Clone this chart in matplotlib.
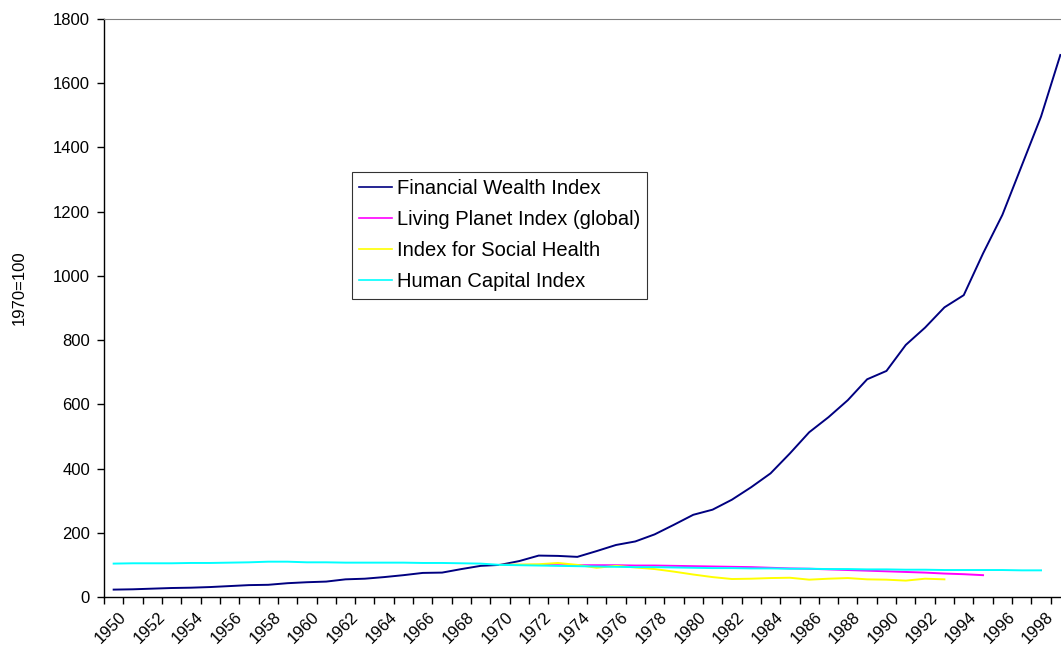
import matplotlib
matplotlib.use('Agg')
import matplotlib.pyplot as plt
import matplotlib.transforms as mtransforms

plt.rcParams['font.family'] = ['Liberation Sans', 'DejaVu Sans']

# index values, 1970 = 100
years = list(range(1950, 2000))

financial_wealth = [23, 24, 26, 28, 29, 31, 34, 37, 38, 43,
                    46, 48, 55, 57, 62, 68, 75, 76, 87, 97,
                    100, 112, 129, 128, 125, 143, 162, 173, 195, 225,
                    256, 272, 303, 342, 385, 447, 513, 560, 613, 678,
                    704, 785, 839, 902, 940, 1070, 1190, 1343, 1496, 1688]

living_planet_years = list(range(1970, 1996))
living_planet = [100, 100, 100, 99, 99, 99, 99, 98, 98, 97,
                 96, 95, 94, 93, 91, 89, 88, 86, 84, 82,
                 80, 78, 76, 73, 71, 68]

social_health_years = list(range(1970, 1994))
social_health = [100, 101, 102, 106, 100, 91, 97, 92, 87, 79,
                 70, 62, 56, 57, 59, 60, 54, 57, 59, 55,
                 54, 51, 57, 55]

human_capital_years = list(range(1950, 1999))
human_capital = [104, 105, 105, 105, 106, 106, 107, 108, 110, 110,
                 108, 108, 107, 107, 107, 107, 106, 106, 105, 104,
                 100, 99, 98, 97, 96, 95, 94, 93, 93, 92,
                 91, 90, 90, 89, 89, 88, 88, 87, 87, 86,
                 86, 85, 85, 84, 84, 84, 84, 83, 83]

W, H = 1061, 660
fig = plt.figure(figsize=(W / 100, H / 100), dpi=100)
ax = fig.add_axes([104 / W, 63 / H, 966 / W, 578 / H])

def idx(ys):
    return [y - 1950 for y in ys]

ax.plot(idx(years), financial_wealth, color='#000080', lw=1.4, label='Financial Wealth Index')
ax.plot(idx(living_planet_years), living_planet, color='#FF00FF', lw=1.4, label='Living Planet Index (global)')
ax.plot(idx(social_health_years), social_health, color='#FFFF00', lw=1.4, label='Index for Social Health')
ax.plot(idx(human_capital_years), human_capital, color='#00FFFF', lw=1.4, label='Human Capital Index')

ax.set_xlim(-0.5, 49.5)
ax.set_ylim(0, 1800)
ax.set_yticks(range(0, 1801, 200))

# tick marks between categories, labels on every second year
ax.set_xticks([i - 0.5 for i in range(51)])
ax.set_xticklabels([])
ax.set_xticks(range(0, 50, 2), labels=[str(y) for y in years[::2]], minor=True)
ax.tick_params(axis='x', which='minor', length=0, pad=9, labelsize=12)
shift = mtransforms.ScaledTranslation(5 / 100, 0, fig.dpi_scale_trans)
for lab in ax.get_xticklabels(minor=True):
    lab.set_rotation(45)
    lab.set_ha('right')
    lab.set_va('top')
    lab.set_rotation_mode('anchor')
    lab.set_transform(lab.get_transform() + shift)
ax.tick_params(axis='x', which='major', direction='out', length=5, width=1)
ax.tick_params(axis='y', direction='out', length=5, width=1, labelsize=12, pad=5)

ax.spines['right'].set_visible(False)
ax.spines['top'].set_color('#808080')
ax.spines['left'].set_linewidth(1)
ax.spines['bottom'].set_linewidth(1)

ax.set_ylabel('1970=100', fontsize=12)
ax.yaxis.set_label_coords(-0.080, 0.536)

leg = ax.legend(loc='upper left', bbox_to_anchor=(0.257, 0.735), borderaxespad=0,
                fontsize=14.5, frameon=True, fancybox=False, edgecolor='black',
                handlelength=1.6, handletextpad=0.28, labelspacing=0.6,
                borderpad=0.35)
leg.get_frame().set_linewidth(0.8)
for line in leg.get_lines():
    line.set_linewidth(1.2)

fig.savefig('out.png', dpi=100)
